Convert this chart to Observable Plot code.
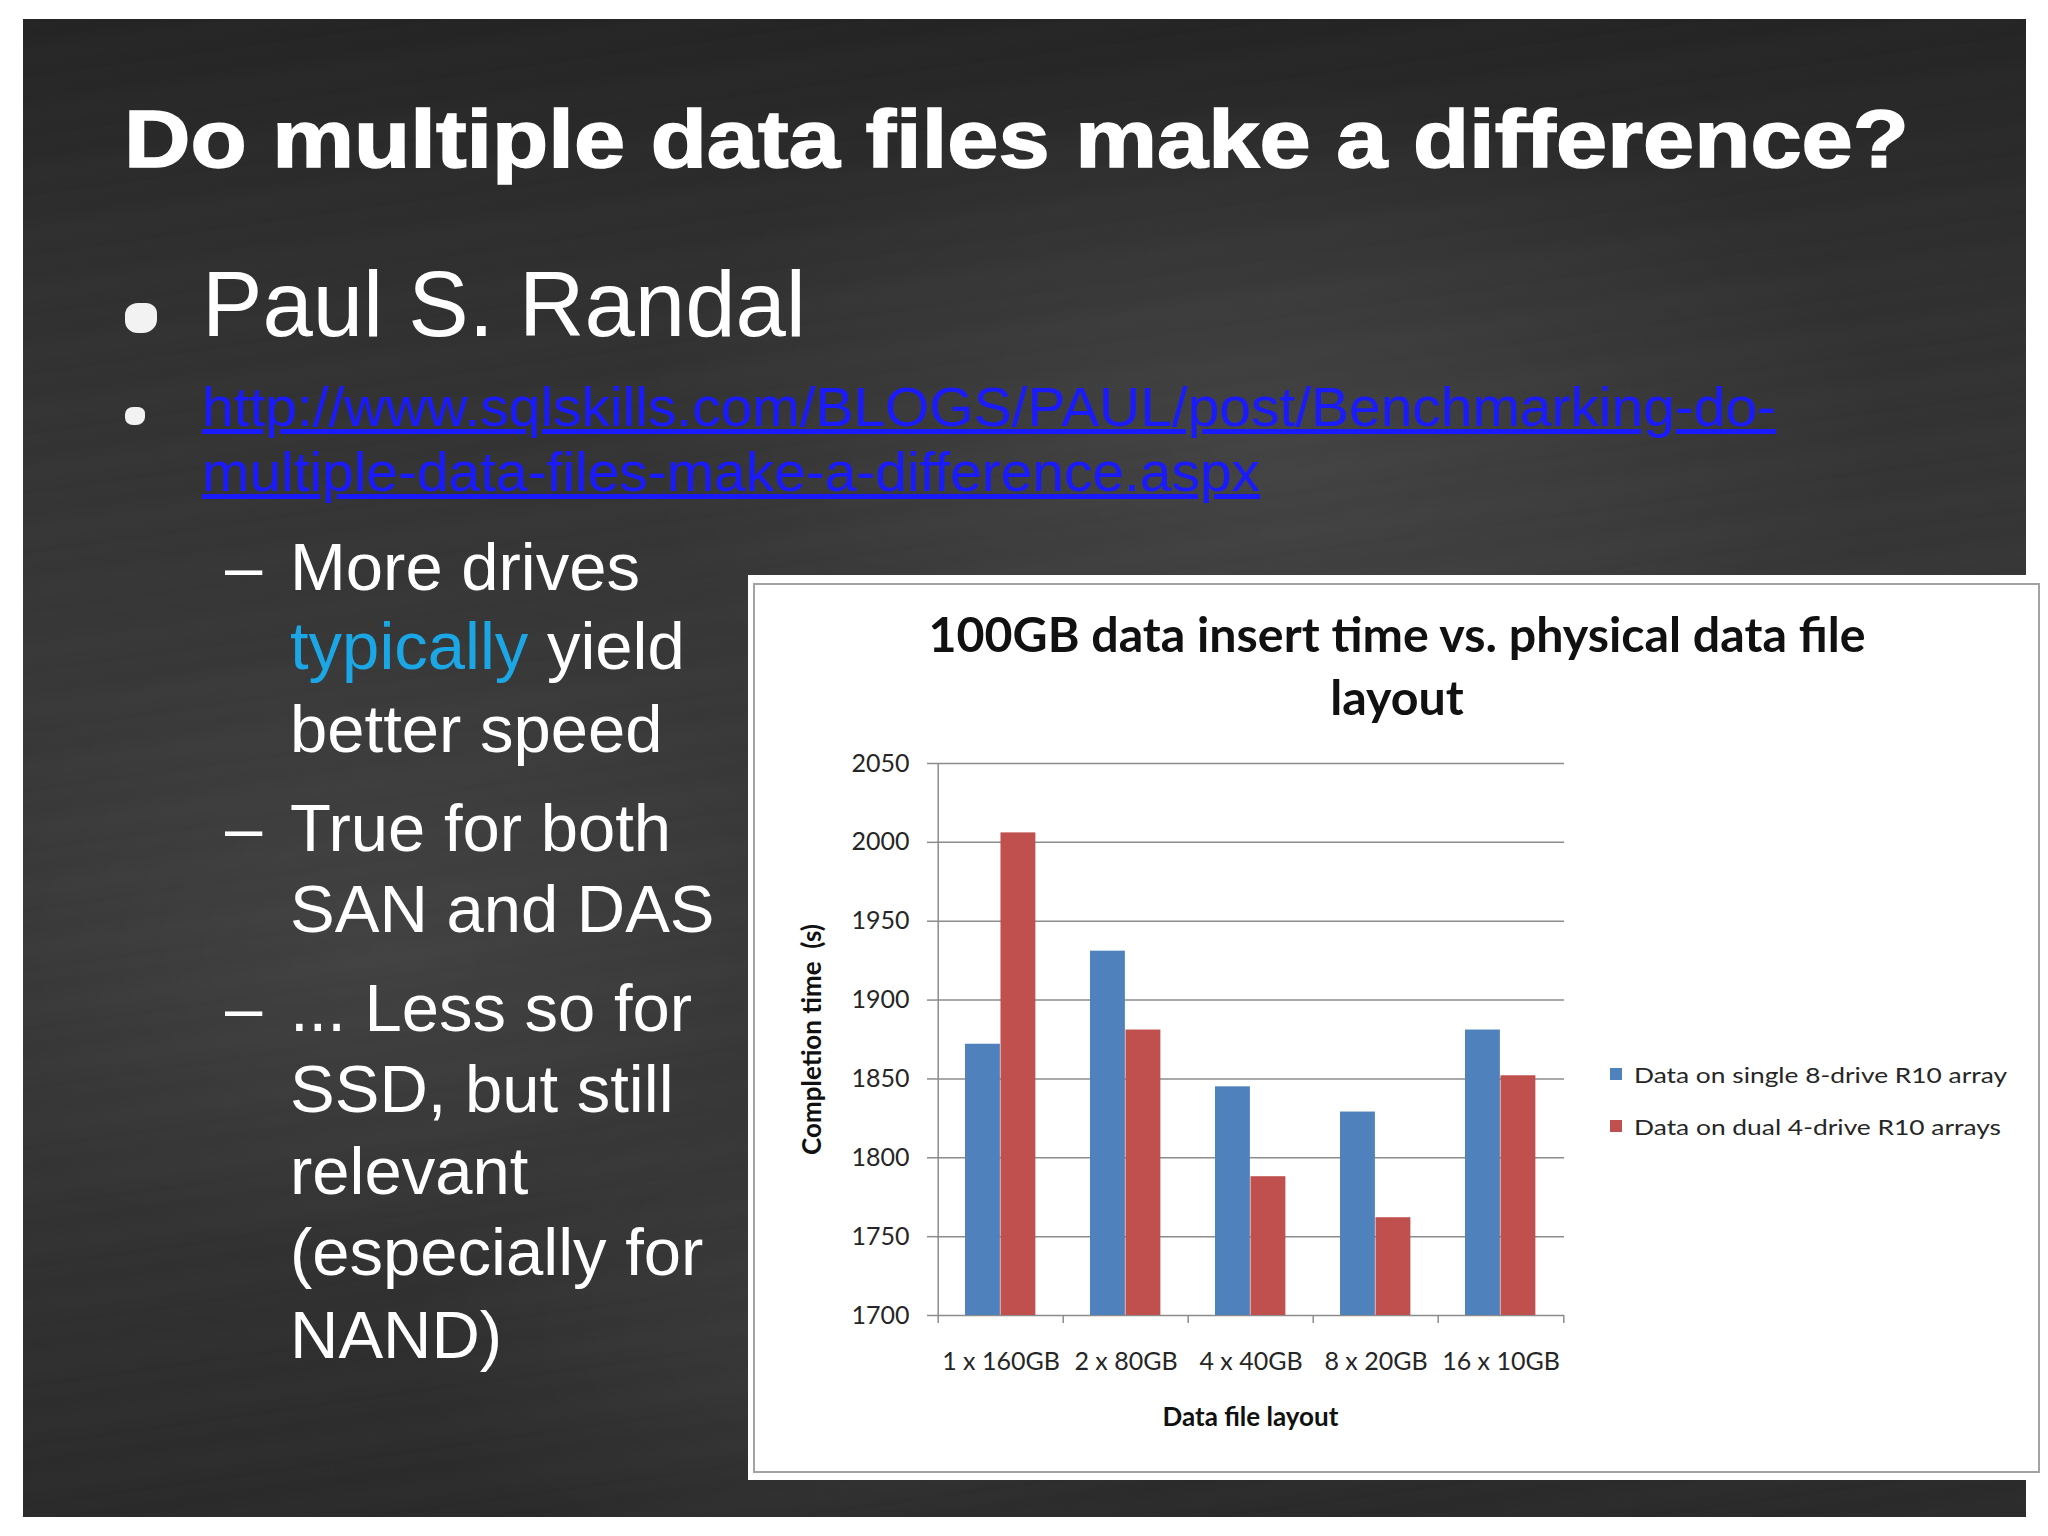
<!DOCTYPE html>
<html><head><meta charset="utf-8">
<script src="https://cdn.jsdelivr.net/npm/d3@7"></script>
<script src="https://cdn.jsdelivr.net/npm/@observablehq/plot@0.6"></script>
<style>
html,body{margin:0;padding:0;background:#fff;}
#page{position:relative;width:2048px;height:1536px;overflow:hidden;background:#fff;}
#slide{position:absolute;left:23px;top:19px;width:2003px;height:1498px;
 background:
  repeating-linear-gradient(172deg, rgba(255,255,255,0.008) 0px, rgba(255,255,255,0) 17px, rgba(255,255,255,0.012) 37px, rgba(255,255,255,0) 59px),
  radial-gradient(ellipse 45% 35% at 62% 28%, rgba(255,255,255,0.08), rgba(255,255,255,0) 70%),
  radial-gradient(ellipse 35% 30% at 18% 62%, rgba(255,255,255,0.06), rgba(255,255,255,0) 70%),
  radial-gradient(ellipse 30% 25% at 40% 88%, rgba(255,255,255,0.05), rgba(255,255,255,0) 70%),
  linear-gradient(180deg,#242424 0%,#303030 18%,#383838 45%,#343434 75%,#2a2a2a 100%);}
.t{position:absolute;white-space:nowrap;font-family:"Liberation Sans",Arial,sans-serif;color:#fff;line-height:1;}
.sub{font-size:67px;}
.dash{position:absolute;left:225px;font-family:"Liberation Sans",Arial,sans-serif;color:#fff;font-size:67px;line-height:1;}
.bul{position:absolute;background:#f2f2f2;border-radius:40% 35% 45% 40%;}
#panel{position:absolute;left:748px;top:575px;width:1300px;height:905px;background:#fff;}
#panelBorder{position:absolute;left:753px;top:583px;width:1283px;height:886px;border:2px solid #a3a3a3;}
.ct{position:absolute;white-space:nowrap;font-family:Lato,"Open Sans",sans-serif;font-weight:700;color:#111;font-size:48px;line-height:1;transform-origin:center;}
#chart{position:absolute;left:780px;top:730px;width:800px;}
#legend{position:absolute;left:1610px;top:1054px;font-family:Lato,"Open Sans",sans-serif;font-size:22px;color:#262626;}
.lrow{display:flex;align-items:center;height:40px;margin-bottom:12px;white-space:nowrap;}
.sw{width:12px;height:12px;margin-right:12px;flex:none;}
</style></head><body>
<div id="page">
 <div id="slide"></div>
 <div class="t" id="title" style="left:124px;top:98px;font-size:82px;font-weight:700;-webkit-text-stroke:1.5px #fff;">Do multiple data files make a difference?</div>
 <div class="bul" style="left:125px;top:303px;width:32px;height:30px;"></div>
 <div class="t" id="paul" style="left:202px;top:258px;font-size:93px;">Paul S. Randal</div>
 <div class="bul" style="left:125px;top:407px;width:20px;height:18px;"></div>
 <div class="t" id="link1" style="left:202px;top:379px;font-size:56px;color:#1a1aff;text-decoration:underline;">http://www.sqlskills.com/BLOGS/PAUL/post/Benchmarking-do-</div>
 <div class="t" id="link2" style="left:202px;top:444px;font-size:56px;color:#1a1aff;text-decoration:underline;">multiple-data-files-make-a-difference.aspx</div>

 <div class="dash" style="top:533px;">–</div>
 <div class="t sub" style="left:290px;top:533px;">More drives</div>
 <div class="t sub" style="left:290px;top:612px;"><span style="color:#1ba6e6">typically</span> yield</div>
 <div class="t sub" style="left:290px;top:695px;">better speed</div>
 <div class="dash" style="top:794px;">–</div>
 <div class="t sub" style="left:290px;top:794px;">True for both</div>
 <div class="t sub" style="left:290px;top:875px;">SAN and DAS</div>
 <div class="dash" style="top:974px;">–</div>
 <div class="t sub" style="left:290px;top:974px;">... Less so for</div>
 <div class="t sub" style="left:290px;top:1055px;">SSD, but still</div>
 <div class="t sub" style="left:290px;top:1137px;">relevant</div>
 <div class="t sub" style="left:290px;top:1218px;">(especially for</div>
 <div class="t sub" style="left:290px;top:1301px;">NAND)</div>

 <div id="panel"></div>
 <div id="panelBorder"></div>
 <div class="ct" id="ct1" style="left:1397px;top:610px;"></div>
 <div class="ct" id="ct2" style="left:1397px;top:673px;"></div>
 <div id="chart"></div>
 <div id="legend"></div>
</div>
<script>
const chartTitle = ["100GB data insert time vs. physical data file", "layout"];
const categories = ["1 x 160GB", "2 x 80GB", "4 x 40GB", "8 x 20GB", "16 x 10GB"];
const seriesNames = ["Data on single 8-drive R10 array", "Data on dual 4-drive R10 arrays"];
const singleArray = [1872, 1931, 1845, 1829, 1881];
const dualArrays = [2006, 1881, 1788, 1762, 1852];
const yTicks = [1700, 1750, 1800, 1850, 1900, 1950, 2000, 2050];
const colors = ["#4F81BD", "#C0504D"];
const yTitle = "Completion time  (s)";
const xTitle = "Data file layout";

// Chart title
document.getElementById("ct1").textContent = chartTitle[0];
document.getElementById("ct2").textContent = chartTitle[1];

// Legend
const leg = document.getElementById("legend");
seriesNames.forEach((s, i) => {
  const row = document.createElement("div"); row.className = "lrow";
  const sw = document.createElement("div"); sw.className = "sw"; sw.style.background = colors[i];
  const tx = document.createElement("span"); tx.textContent = s; tx.id = "leg" + i;
  row.appendChild(sw); row.appendChild(tx); leg.appendChild(row);
});

const rows = categories.flatMap((c, i) => [
  {cat: c, series: seriesNames[0], value: singleArray[i]},
  {cat: c, series: seriesNames[1], value: dualArrays[i]}
]);

const W = 800, H = 720, mL = 156, mR = 16, mT = 33, mB = 135;
const plotH = H - mT - mB;
const bw = (W - mL - mR) / categories.length;
const gray = "#8c8c8c";
const yMin = yTicks[0], yMax = yTicks[yTicks.length - 1];

const chart = Plot.plot({
  width: W, height: H,
  marginLeft: mL, marginRight: mR, marginTop: mT, marginBottom: mB,
  style: {fontFamily: "Lato, 'Open Sans', sans-serif", fontSize: "25px", color: "#262626", background: "transparent"},
  x: {type: "band", domain: categories, padding: 0, label: null},
  y: {domain: [yMin, yMax], label: null},
  color: {domain: seriesNames, range: colors},
  marks: [
    Plot.gridY(yTicks, {stroke: gray, strokeOpacity: 1, strokeWidth: 1.5}),
    Plot.axisY(yTicks, {tickSize: 9, tickPadding: 18, stroke: gray, strokeWidth: 1.5, tickFormat: d => String(d), fill: "#262626", fontSize: 25, label: null}),
    Plot.axisX({tickSize: 0, tickPadding: 37, fill: "#262626", fontSize: 25, label: null}),
    Plot.barY(rows.filter(d => d.series === seriesNames[0]), {
      x: "cat", y1: () => yMin, y2: "value", fill: "series",
      insetLeft: bw * 0.215, insetRight: bw * (1 - 0.4975)
    }),
    Plot.barY(rows.filter(d => d.series === seriesNames[1]), {
      x: "cat", y1: () => yMin, y2: "value", fill: "series",
      insetLeft: bw * 0.4975, insetRight: bw * 0.22
    }),
    // y axis line (with tick below the baseline)
    Plot.tickX([categories[0]], {x: d => d, dx: -bw / 2, stroke: gray, strokeWidth: 1.5, insetBottom: -8}),
    // category boundary ticks
    Plot.tickX(categories.slice(1), {x: d => d, dx: -bw / 2, stroke: gray, strokeWidth: 1.5, insetTop: plotH, insetBottom: -8}),
    Plot.tickX([categories[categories.length - 1]], {x: d => d, dx: bw / 2, stroke: gray, strokeWidth: 1.5, insetTop: plotH, insetBottom: -8}),
    Plot.text([yTitle], {text: d => d, frameAnchor: "left", dx: -124, rotate: -90, textAnchor: "middle", lineAnchor: "middle", fontWeight: "bold", fontSize: 26, fill: "#111", style: "white-space:pre"}),
    Plot.text([xTitle], {text: d => d, frameAnchor: "bottom", dy: 102, textAnchor: "middle", lineAnchor: "middle", fontWeight: "bold", fontSize: 26, fill: "#111"})
  ]
});
document.getElementById("chart").appendChild(chart);

// horizontal fitting of text to the widths measured on the reference
function fit(id, target, centered) {
  const el = document.getElementById(id);
  const w = el.getBoundingClientRect().width;
  const s = target / w;
  if (centered) { el.style.transform = `translateX(-50%) scaleX(${s})`; }
  else { el.style.transformOrigin = "left center"; el.style.transform = `scaleX(${s})`; }
}
const ct1w = document.getElementById("ct1").getBoundingClientRect().width;
const ct2w = document.getElementById("ct2").getBoundingClientRect().width;
fit("title", 1785);
fit("paul", 604);
fit("link1", 1574);
fit("link2", 1058);
fit("ct1", 937, true);
fit("ct2", ct2w * 937 / ct1w, true);
fit("leg0", 373);
fit("leg1", 367);
</script>
</body></html>
